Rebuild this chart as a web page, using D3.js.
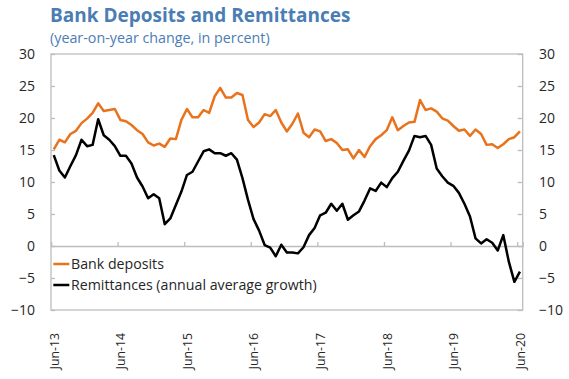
<!DOCTYPE html>
<html>
<head>
<meta charset="utf-8">
<script src="https://cdn.jsdelivr.net/npm/d3@7"></script>
<style>
  body { margin: 0; background: #fff; }
  svg { display: block; }
  text { font-family: "Open Sans", "DejaVu Sans", sans-serif; }
</style>
</head>
<body>
<svg id="chart" width="569" height="379"></svg>
<script>
// Monthly observations, Jun-2013 through Jun-2020
const months = d3.timeMonth.range(new Date(2013, 5, 1), new Date(2020, 6, 1));
const xTickLabels = ["Jun-13", "Jun-14", "Jun-15", "Jun-16", "Jun-17", "Jun-18", "Jun-19", "Jun-20"];
const yTicks = [-10, -5, 0, 5, 10, 15, 20, 25, 30];

// Year-on-year change, percent
const deposits = [
  15.1, 16.6, 16.2, 17.5, 18.0, 19.2, 19.9, 20.8, 22.3, 21.1, 21.25, 21.4,
  19.7, 19.5, 18.9, 18.1, 17.5, 16.2, 15.7, 16.0, 15.5, 16.8, 16.7, 19.7,
  21.4, 20.1, 20.1, 21.25, 20.8, 23.4, 24.7, 23.2, 23.2, 23.9, 23.6, 19.7,
  18.6, 19.3, 20.6, 20.3, 21.25, 19.3, 17.9, 19.1, 20.7, 17.7, 17.0, 18.2,
  17.9, 16.4, 16.7, 16.1, 15.0, 15.1, 13.7, 15.0, 13.9, 15.6, 16.7, 17.3,
  18.1, 20.1, 18.1, 18.75, 19.3, 19.4, 22.8, 21.25, 21.5, 21.0, 19.95, 19.6,
  18.75, 18.0, 18.2, 17.2, 18.2, 17.5, 15.8, 15.9, 15.3, 15.9, 16.7, 17.0,
  17.9
];
const remittances = [
  14.2, 11.8, 10.7, 12.5, 14.2, 16.6, 15.6, 15.8, 19.8, 17.3, 16.6, 15.6,
  14.1, 14.1, 12.9, 10.7, 9.3, 7.45, 8.1, 7.45, 3.4, 4.3, 6.4, 8.5,
  11.1, 11.6, 13.2, 14.8, 15.1, 14.5, 14.5, 14.1, 14.5, 13.5, 10.6, 7.2,
  4.2, 2.4, 0.15, -0.25, -1.6, 0.2, -1.0, -1.0, -1.15, -0.2, 1.7, 2.8,
  4.8, 5.2, 6.6, 5.5, 6.6, 4.1, 4.8, 5.4, 7.1, 9.0, 8.6, 9.9,
  9.2, 10.6, 11.6, 13.3, 14.9, 17.2, 17.0, 17.2, 15.8, 12.1, 10.9, 9.9,
  9.4, 8.3, 6.6, 4.6, 1.2, 0.4, 1.05, 0.5, -0.7, 1.7, -2.45, -5.6,
  -4.0
];
const seriesNames = ["Bank deposits", "Remittances (annual average growth)"];
const seriesColors = ["#e8731c", "#000000"];

const titleText = "Bank Deposits and Remittances";
const subtitleText = "(year-on-year change, in percent)";

// ---- layout ----
const W = 569, H = 379;
const plot = { left: 51, right: 522.7, top: 54, bottom: 310 };
const titleColor = "#4a7db4";
const axisColor = "#bdbdbd";
const textColor = "#262626";

const svg = d3.select("#chart");
svg.append("rect").attr("width", W).attr("height", H).attr("fill", "#fff");

// month index scale: each month occupies one slot, points sit in the middle
const x = d3.scaleLinear().domain([-0.5, months.length - 0.5]).range([plot.left, plot.right]);
const y = d3.scaleLinear().domain([-10, 30]).range([plot.bottom, plot.top]);

const junIdx = months.map((d, i) => i).filter(i => months[i].getMonth() === 5);

// plot frame
svg.append("rect")
  .attr("x", plot.left).attr("y", plot.top)
  .attr("width", plot.right - plot.left).attr("height", plot.bottom - plot.top)
  .attr("fill", "none").attr("stroke", axisColor).attr("stroke-width", 1.3);

// left value axis
const leftAxis = svg.append("g")
  .attr("transform", `translate(${plot.left},0)`)
  .call(d3.axisLeft(y).tickValues(yTicks).tickSize(-4).tickPadding(16));
// right value axis
const rightAxis = svg.append("g")
  .attr("transform", `translate(${plot.right},0)`)
  .call(d3.axisRight(y).tickValues(yTicks).tickSize(-5).tickPadding(16.3));

[leftAxis, rightAxis].forEach(g => {
  g.select(".domain").remove();
  g.selectAll(".tick line").attr("stroke", axisColor).attr("stroke-width", 1.3);
  g.selectAll(".tick text")
    .attr("fill", textColor)
    .style("font-size", "14px");
});

// zero line with year ticks between months
const zeroAxis = svg.append("g")
  .attr("transform", `translate(0,${y(0)})`)
  .call(d3.axisBottom(x).tickValues(junIdx.map(i => i - 0.5)).tickSize(-4).tickFormat(""));
zeroAxis.select(".domain").attr("stroke", axisColor).attr("stroke-width", 1.3);
zeroAxis.selectAll(".tick line").attr("stroke", axisColor).attr("stroke-width", 1.3);

// rotated date labels under the plot
const labelAxis = svg.append("g")
  .attr("transform", `translate(0,${plot.bottom})`)
  .call(d3.axisBottom(x).tickValues(junIdx).tickSize(0)
    .tickFormat((d, k) => xTickLabels[k]));
labelAxis.select(".domain").remove();
labelAxis.selectAll(".tick text")
  .attr("transform", "rotate(-90)")
  .attr("x", -23).attr("y", 0).attr("dy", "0.35em")
  .attr("text-anchor", "end")
  .attr("fill", textColor)
  .style("font-size", "12.3px");

// series lines
const line = d3.line().x((d, i) => x(i)).y(d => y(d));
[deposits, remittances].forEach((vals, k) => {
  svg.append("path")
    .datum(vals)
    .attr("d", line)
    .attr("fill", "none")
    .attr("stroke", seriesColors[k])
    .attr("stroke-width", 2.5)
    .attr("stroke-linejoin", "round");
});

// legend
const legend = svg.append("g");
seriesNames.forEach((name, k) => {
  const ly = 264 + k * 21;
  legend.append("line")
    .attr("x1", 53.3).attr("x2", 69.3).attr("y1", ly).attr("y2", ly)
    .attr("stroke", seriesColors[k]).attr("stroke-width", 2.5);
  legend.append("text")
    .attr("x", 71).attr("y", ly).attr("dy", "0.35em")
    .attr("fill", textColor)
    .style("font-size", "14.2px")
    .text(name);
});

// titles
svg.append("text")
  .attr("x", 50).attr("y", 22)
  .attr("fill", titleColor)
  .style("font-size", "19px").style("font-weight", "bold")
  .text(titleText);
svg.append("text")
  .attr("x", 50).attr("y", 43)
  .attr("fill", titleColor)
  .style("font-size", "14.3px")
  .text(subtitleText);
</script>
</body>
</html>
